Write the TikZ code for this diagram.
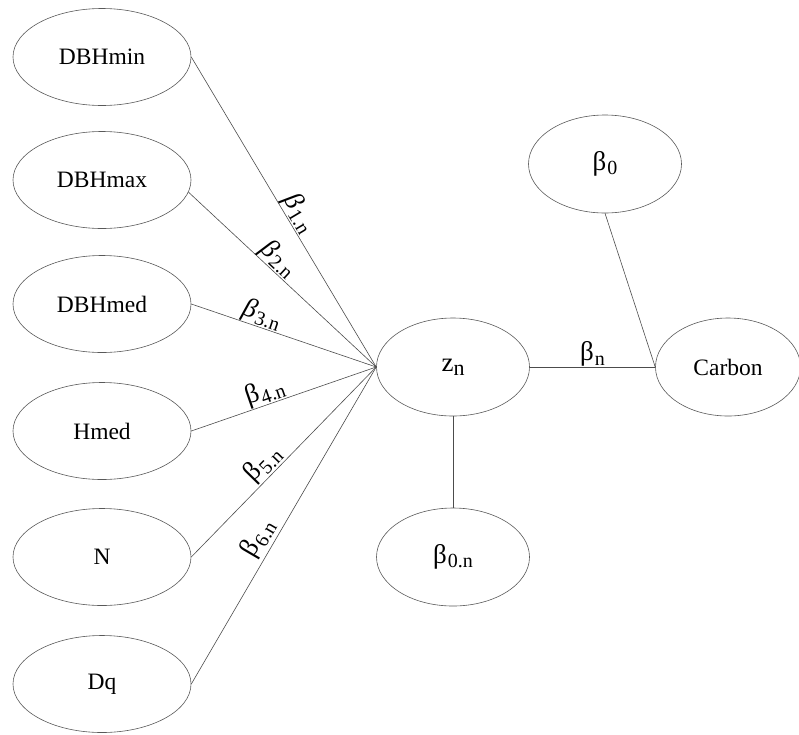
\documentclass[tikz,border=0pt]{standalone}
\usepackage{fontspec}
\setmainfont{Liberation Serif}
\usetikzlibrary{shapes.geometric}

% subscript set smaller and lowered below the baseline
\newcommand{\lowsub}[1]{\raisebox{-0.35ex}{\fontsize{20}{20}\selectfont #1}}
\newcommand{\coefit}[1]{\textit{β}\kern1pt\lowsub{#1}}
\newcommand{\coefup}[1]{β\kern1pt\lowsub{#1}}

\begin{document}
\begin{tikzpicture}[x=1pt,y=-1pt,
  varnode/.style={ellipse, draw=black!65, line width=0.6pt,
    minimum width=178pt, minimum height=97pt, inner sep=0pt,
    font=\fontsize{23.5}{25}\selectfont},
  latnode/.style={varnode, minimum width=153pt, minimum height=98pt},
  link/.style={draw=black!70, line width=0.6pt},
  coef/.style={sloped, above, inner sep=1pt, font=\fontsize{27}{28}\selectfont}]

\useasboundingbox (0,0) rectangle (799,734);

% predictors
\node[varnode] (dmin) at (102,57)  {DBHmin};
\node[varnode] (dmax) at (102,180) {DBHmax};
\node[varnode] (dmed) at (102,304) {DBHmed};
\node[varnode] (hmed) at (102,431) {Hmed};
\node[varnode] (nn)   at (102,557) {N};
\node[varnode] (dq)   at (102,684) {Dq};

% latent component, intercepts and response
\node[latnode] (zn)   at (453,367) {\fontsize{27}{28}\selectfont z\raisebox{-0.35ex}{\fontsize{22}{22}\selectfont n}};
\node[latnode, font=\fontsize{27}{28}\selectfont] (b0n)  at (453,557) {\coefup{0.n}};
\node[latnode, font=\fontsize{27}{28}\selectfont] (b0)   at (605,164) {\coefup{0}};
\node[latnode, minimum width=145pt] (carb) at (728,367) {Carbon};

% loadings
\draw[link] (dmin.east) -- node[coef, pos=0.525, inner sep=0pt] {\coefit{1.n}} (zn.west);
\draw[link] (dmax.-8)   -- node[coef, pos=0.435, inner sep=0pt] {\coefit{2.n}} (zn.west);
\draw[link] (dmed.east) -- node[coef, pos=0.36, inner sep=0pt]  {\coefit{3.n}} (zn.west);
\draw[link] (hmed.east) -- node[coef, pos=0.42, inner sep=0pt] {\coefup{4.n}} (zn.west);
\draw[link] (nn.east)   -- node[coef, pos=0.44]  {\coefup{5.n}} (zn.west);
\draw[link] (dq.east)   -- node[coef, pos=0.435, inner sep=3pt] {\coefup{6.n}} (zn.west);

% regression part
\draw[link] (zn.east) -- node[coef, midway, inner sep=0pt] {\coefup{n}} (carb.west);
\draw[link] (b0.south) -- (carb.west);
\draw[link] (zn.south) -- (b0n.north);
\end{tikzpicture}
\end{document}
